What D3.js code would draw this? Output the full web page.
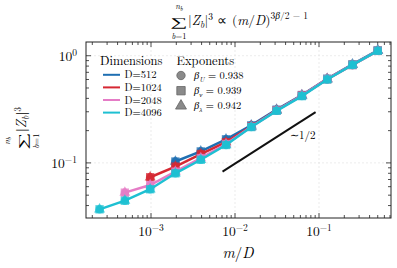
<!DOCTYPE html>
<html lang="en">
<head>
<meta charset="UTF-8">
<title>Sum |Z_b|^3 scaling</title>
<script src="https://d3js.org/d3.v7.min.js"></script>
<style>
  body { margin: 0; background: #fff; }
</style>
</head>
<body>
<svg id="chart" width="397" height="268" style="font-family: 'Latin Modern Roman', 'Liberation Serif', serif"></svg>
<script>
// data (m/D on x, sum |Z_b|^3 on y)
const mOverD = [0.000244, 0.000488, 0.000977, 0.00195, 0.00391, 0.00781,
                0.0156, 0.03125, 0.0625, 0.125, 0.25, 0.5];
const dims = ["D=512", "D=1024", "D=2048", "D=4096"];
const colors = ["#1f6fb2", "#d62833", "#e57cc6", "#1ec0d2"];
const y512  = [0.103, 0.128, 0.166, 0.224, 0.314, 0.43, 0.61, 0.83, 1.12];
const y1024 = [0.0735, 0.0924, 0.121, 0.156, 0.219, 0.31, 0.425, 0.605, 0.82, 1.11];
const y2048 = [0.0528, 0.0622, 0.083, 0.111, 0.150, 0.217, 0.308, 0.424, 0.604, 0.82, 1.11];
const y4096 = [0.0369, 0.0444, 0.0568, 0.080, 0.107, 0.147, 0.216, 0.306, 0.42, 0.60, 0.82, 1.11];
const series = [y512, y1024, y2048, y4096];
const expNames = ["U", "ν", "λ"];
const expValues = ["0.938", "0.939", "0.942"];
const refX = [0.0071, 0.091];
const refY0 = 0.083;
const xTicks = [1e-3, 1e-2, 1e-1];
const yTicks = [1e-1, 1e0];

const svg = d3.select("#chart");
const L = 86, R = 391, T = 42, B = 218;

const x = d3.scaleLog().domain([Math.pow(10, -3.774), Math.pow(10, -0.143)]).range([L, R]);
const y = d3.scaleLog().domain([Math.pow(10, -1.514), Math.pow(10, 0.128)]).range([B, T]);

// grid
svg.append("g").selectAll("line").data(xTicks).join("line")
  .attr("x1", d => x(d)).attr("x2", d => x(d)).attr("y1", T).attr("y2", B)
  .attr("stroke", "#ddd").attr("stroke-width", 0.6).attr("stroke-dasharray", "2,2");
svg.append("g").selectAll("line").data(yTicks).join("line")
  .attr("y1", d => y(d)).attr("y2", d => y(d)).attr("x1", L).attr("x2", R)
  .attr("stroke", "#ddd").attr("stroke-width", 0.6).attr("stroke-dasharray", "2,2");

// minor + major ticks, inward on all sides
function minors(scale) {
  const [a, b] = scale.domain();
  const out = [];
  for (let e = Math.floor(Math.log10(a)); e <= Math.ceil(Math.log10(b)); e++) {
    for (let k = 1; k < 10; k++) {
      const v = k * Math.pow(10, e);
      if (v >= a && v <= b) out.push({v: v, major: k === 1});
    }
  }
  return out;
}
const tg = svg.append("g").attr("stroke", "#222").attr("stroke-width", 0.8);
minors(x).forEach(t => {
  const len = t.major ? 5 : 3, px = x(t.v);
  tg.append("line").attr("x1", px).attr("x2", px).attr("y1", B).attr("y2", B - len);
  tg.append("line").attr("x1", px).attr("x2", px).attr("y1", T).attr("y2", T + len);
});
minors(y).forEach(t => {
  const len = t.major ? 5 : 3, py = y(t.v);
  tg.append("line").attr("y1", py).attr("y2", py).attr("x1", L).attr("x2", L + len);
  tg.append("line").attr("y1", py).attr("y2", py).attr("x1", R).attr("x2", R - len);
});

// frame
svg.append("rect").attr("x", L).attr("y", T).attr("width", R - L).attr("height", B - T)
  .attr("fill", "none").attr("stroke", "#222").attr("stroke-width", 1);

// tick labels
const xl = svg.append("g").selectAll("text").data(xTicks).join("text")
  .attr("x", d => x(d)).attr("y", 236).attr("text-anchor", "middle").attr("font-size", 13.5);
xl.append("tspan").text("10");
xl.append("tspan").attr("dy", -5).attr("font-size", 9.5).text(d => "\u2212" + Math.round(-Math.log10(d)));
const yl = svg.append("g").selectAll("text").data(yTicks).join("text")
  .attr("x", 77).attr("y", d => y(d) + 5).attr("text-anchor", "end").attr("font-size", 13.5);
yl.append("tspan").text("10");
yl.append("tspan").attr("dy", -5).attr("font-size", 9.5).text(d => d === 1 ? "0" : "\u22121");

// x label
const xlab = svg.append("text").attr("x", 238).attr("y", 258).attr("text-anchor", "middle")
  .attr("font-size", 15).attr("font-style", "italic");
xlab.append("tspan").text("m");
xlab.append("tspan").attr("font-style", "normal").text("/");
xlab.append("tspan").text("D");

// reference slope line
svg.append("line")
  .attr("x1", x(refX[0])).attr("y1", y(refY0))
  .attr("x2", x(refX[1])).attr("y2", y(refY0 * Math.sqrt(refX[1] / refX[0])))
  .attr("stroke", "#111").attr("stroke-width", 2);
svg.append("text").attr("x", 290).attr("y", 139).attr("font-size", 11).text("\u223C1/2");

// series
const line = d3.line().x(d => x(d[0])).y(d => y(d[1]));
const tri = d3.symbol().type(d3.symbolTriangle).size(52);
const sq = d3.symbol().type(d3.symbolSquare).size(70);
const circ = d3.symbol().type(d3.symbolCircle).size(55);
series.forEach((ys, i) => {
  const off = mOverD.length - ys.length;
  const pts = ys.map((v, j) => [mOverD[j + off], v]);
  const g = svg.append("g");
  g.append("path").datum(pts).attr("d", line).attr("fill", "none")
    .attr("stroke", colors[i]).attr("stroke-width", 2.5);
  [circ, sq, tri].forEach(sym => {
    g.selectAll(null).data(pts).join("path")
      .attr("transform", d => `translate(${x(d[0])},${y(d[1])})`)
      .attr("d", sym).attr("fill", colors[i]).attr("fill-opacity", 0.75);
  });
});

// legend: Dimensions
svg.append("text").attr("x", 100).attr("y", 65).attr("font-size", 12.5).text("Dimensions");
dims.forEach((d, i) => {
  const yy = 74.8 + i * 12.6;
  svg.append("line").attr("x1", 103).attr("x2", 120).attr("y1", yy).attr("y2", yy)
    .attr("stroke", colors[i]).attr("stroke-width", 2);
  svg.append("text").attr("x", 124.5).attr("y", yy + 3.5).attr("font-size", 10.5).text(d);
});

// legend: Exponents
svg.append("text").attr("x", 176.5).attr("y", 65).attr("font-size", 12.5).text("Exponents");
const legSyms = [circ, sq, tri];
expNames.forEach((n, i) => {
  const yy = 75.5 + i * 15.2;
  svg.append("path").attr("transform", `translate(181,${yy})`).attr("d", legSyms[i])
    .attr("fill", "#8a8a8a").attr("stroke", "#666").attr("stroke-width", 0.8);
  const t = svg.append("text").attr("x", 194).attr("y", yy + 3.5).attr("font-size", 10.5);
  t.append("tspan").attr("font-style", "italic").text("β");
  t.append("tspan").attr("font-size", 7).attr("dy", 2.5).attr("font-style", "italic").text(n);
  t.append("tspan").attr("dy", -2.5).text(" = " + expValues[i]);
});

// summation block shared by title and y label
function sumLabel(g) {
  const s = g.append("text").attr("x", 0).attr("y", 0).attr("font-size", 30).text("\u2211");
  const bb = s.node().getBBox();
  // fit the big sigma into a 17 x 17 box at (1,-4)
  const sx = 17 / bb.width, sy = 17 / bb.height;
  s.attr("transform", `translate(${1 - bb.x * sx},${-4 - bb.y * sy}) scale(${sx},${sy})`);
  const up = g.append("text").attr("x", 10).attr("y", -8).attr("text-anchor", "middle")
    .attr("font-size", 8.5).attr("font-style", "italic");
  up.append("tspan").text("n");
  up.append("tspan").attr("font-size", 6).attr("dy", 1.5).text("b");
  const lo = g.append("text").attr("x", 10).attr("y", 21.5).attr("text-anchor", "middle").attr("font-size", 8.5);
  lo.append("tspan").attr("font-style", "italic").text("b");
  lo.append("tspan").text("=1");
  const t = g.append("text").attr("x", 19).attr("y", 8).attr("font-size", 13.5);
  t.append("tspan").text("|");
  t.append("tspan").attr("font-style", "italic").text("Z");
  t.append("tspan").attr("font-style", "italic").attr("font-size", 9.5).attr("dy", 3).text("b");
  t.append("tspan").attr("dy", -3).text("|");
  t.append("tspan").attr("font-size", 9.5).attr("dy", -5).text("3");
  return t;
}
const tg2 = svg.append("g").attr("transform", "translate(169,17)");
const tt = sumLabel(tg2);
tt.append("tspan").attr("dy", 5).text(" \u221D (");
tt.append("tspan").attr("font-style", "italic").text("m");
tt.append("tspan").text("/");
tt.append("tspan").attr("font-style", "italic").text("D");
tt.append("tspan").text(")");
tt.append("tspan").attr("font-size", 9.5).attr("dy", -6).text("3");
tt.append("tspan").attr("font-size", 9.5).attr("font-style", "italic").text("β");
tt.append("tspan").attr("font-size", 9.5).text("/2 \u2212 1");

// y label (same block, rotated)
const yg = svg.append("g").attr("transform", "translate(17.5,151) rotate(-90)");
sumLabel(yg);
</script>
</body>
</html>
